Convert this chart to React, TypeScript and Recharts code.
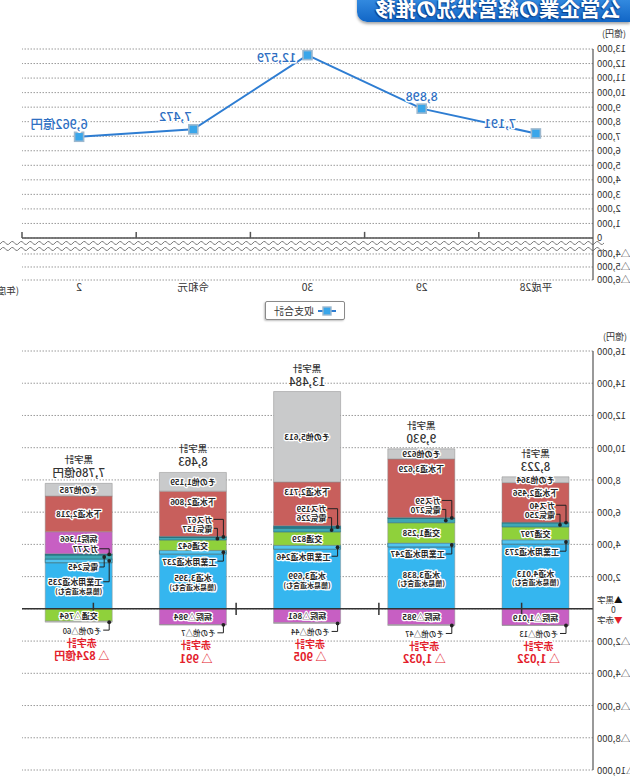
import React from 'react';
import {
  LineChart, Line, XAxis, YAxis, CartesianGrid, ReferenceLine,
  BarChart, Bar, LabelList,
} from 'recharts';

const FONT = '"Noto Sans CJK JP", "Noto Sans", sans-serif';

// ---------- data ----------
const categories = ['平成28', '29', '30', '令和元', '2'];
const balanceTotals = [7191, 8898, 12579, 7472, 6962];

const suidoValues = [4013, 3838, 3699, 3395, 2860];
const kogyoValues = [273, 247, 246, 237, 235];
const kotsuValues = [797, 1258, 829, 642, -764];
const denkiValues = [250, 270, 226, 157, 245];
const gasValues = [40, 59, 159, 67, 77];
const byoinValues = [-1019, -985, -861, -984, 1366];
const gesuidoValues = [2456, 3629, 2713, 2806, 2218];
const sonotaValues = [364, 629, 5613, 1159, 785];
const sonotaNegValues = [-13, -47, -44, -7, -60];
const surplusTotals = [8223, 9930, 13484, 8463, 7786];
const deficitTotals = [1032, 1032, 905, 991, 824];

const topPosTicks = [0, 1000, 2000, 3000, 4000, 5000, 6000, 7000, 8000, 9000, 10000, 11000, 12000, 13000];
const topNegTicks = [-4000, -5000, -6000];
const bottomTicks = [-10000, -8000, -6000, -4000, -2000, 0, 2000, 4000, 6000, 8000, 10000, 12000, 14000, 16000];

// ---------- helpers ----------
const fmt = (n: number) => Math.abs(n).toLocaleString('en-US');

// axis break for the upper chart (0 ... △4,000 skipped)
const BREAK_START = 1100;
const NEG_UNIT = 0.895;
const toDisplay = (v: number) => (v >= 0 ? v : -(BREAK_START + (-v - 4000) * NEG_UNIT));
const topTickDisplay = [...topNegTicks.map(toDisplay), ...topPosTicks];
const topTickLabel = (d: number) => {
  if (d >= 0) return fmt(d);
  const hit = topNegTicks.find((v) => Math.abs(toDisplay(v) - d) < 1);
  return hit !== undefined ? '△' + fmt(hit) : '';
};

const lineData = categories.map((name, i) => ({ idx: i, name, value: balanceTotals[i] }));
const barData = categories.map((name, i) => ({
  name,
  suido: suidoValues[i],
  kogyo: kogyoValues[i],
  kotsu: kotsuValues[i],
  denki: denkiValues[i],
  gas: gasValues[i],
  byoin: byoinValues[i],
  gesuido: gesuidoValues[i],
  sonota: sonotaValues[i],
  sonotaNeg: sonotaNegValues[i],
  surplus: surplusTotals[i],
  deficit: deficitTotals[i],
}));
const boundaries = categories.map((_, i) => i + 0.5);
const lastIdx = categories.length - 1;

const valueLabelOffsets = [[36, -11], [0, -13], [31, 1], [18, -14], [20, -13]];

const HaloText = ({ x, y, size = 8, fill = '#262626', anchor = 'middle', weight = 700, halo = 2.6, children }: any) => (
  <text
    x={x}
    y={y}
    fontSize={size}
    fill={fill}
    textAnchor={anchor}
    dominantBaseline="central"
    fontWeight={weight}
    fontFamily={FONT}
    stroke="#fff"
    strokeWidth={halo}
    strokeLinejoin="round"
    style={{ paintOrder: 'stroke' }}
  >
    {children}
  </text>
);

const Leader = ({ dotX, dotY, toX, toY }: any) => (
  <g>
    <path d={`M${dotX},${dotY}V${toY}H${toX}`} stroke="#222" strokeWidth={1} fill="none" />
    <circle cx={dotX} cy={dotY} r={1.9} fill="#222" />
  </g>
);

const seg = (p: any) => {
  const vb = p.viewBox && typeof p.viewBox.x === 'number' ? p.viewBox : p;
  const x = Number(vb.x);
  const y = Number(vb.y);
  const w = Number(vb.width);
  const h = Number(vb.height);
  return { left: x, cx: x + w / 2, top: Math.min(y, y + h), bottom: Math.max(y, y + h), h: Math.abs(h) };
};

// ---------- label renderers ----------
const suidoLabel = (p: any) => {
  const s = seg(p);
  const cy = (s.top + s.bottom) / 2;
  return (
    <g>
      <HaloText x={s.cx} y={cy - 3.5}>{'水道' + fmt(p.value)}</HaloText>
      <HaloText x={s.cx} y={cy + 5.5} size={7}>(簡易水道含む)</HaloText>
    </g>
  );
};

const kogyoLabel = (p: any) => {
  const s = seg(p);
  const row = barData[p.index];
  const ly = s.bottom + (row.kotsu < 0 ? 19 : 7);
  const mid = (s.top + s.bottom) / 2;
  return (
    <g>
      <Leader dotX={s.left + 3} dotY={mid} toX={s.left + 9} toY={ly} />
      <HaloText x={s.left + 10} y={ly} anchor="start">{'工業用水道' + fmt(p.value)}</HaloText>
    </g>
  );
};

const kotsuLabel = (p: any) => {
  const s = seg(p);
  return <HaloText x={s.cx} y={(s.top + s.bottom) / 2}>{'交通' + (p.value < 0 ? '△' : '') + fmt(p.value)}</HaloText>;
};

const denkiLabel = (p: any) => {
  const row = barData[p.index];
  if (row.kotsu >= 0) return null;
  const s = seg(p);
  const ly = s.bottom + 8;
  return (
    <g>
      <Leader dotX={s.left + 8} dotY={(s.top + s.bottom) / 2} toX={s.left + 13} toY={ly} />
      <HaloText x={s.left + 14} y={ly} anchor="start">{'電気' + fmt(p.value)}</HaloText>
    </g>
  );
};

const byoinLabel = (p: any) => {
  const s = seg(p);
  const row = barData[p.index];
  const v = p.value;
  if (v < 0) return <HaloText x={s.cx} y={(s.top + s.bottom) / 2}>{'病院△' + fmt(v)}</HaloText>;
  const ppu = s.h / v;
  const gasMid = s.bottom + (row.gas * ppu) / 2;
  const gasY = s.bottom - 5;
  return (
    <g>
      <HaloText x={s.cx} y={s.top + 7}>{'病院' + fmt(v)}</HaloText>
      <Leader dotX={s.left + 3} dotY={gasMid} toX={s.left + 13} toY={gasY} />
      <HaloText x={s.left + 14} y={gasY} anchor="start">{'ガス' + fmt(row.gas)}</HaloText>
    </g>
  );
};

const gesuidoLabel = (p: any) => {
  const s = seg(p);
  const row = barData[p.index];
  if (row.byoin > 0) return <HaloText x={s.cx} y={(s.top + s.bottom) / 2}>{'下水道' + fmt(p.value)}</HaloText>;
  const ppu = s.h / p.value;
  const gasMid = s.bottom + (row.gas * ppu) / 2;
  const denkiMid = s.bottom + (row.gas + row.denki / 2) * ppu;
  const gasY = s.bottom - 17;
  const denkiY = s.bottom - 8;
  return (
    <g>
      <HaloText x={s.cx} y={s.top + 10}>{'下水道' + fmt(p.value)}</HaloText>
      <Leader dotX={s.left + 3} dotY={gasMid} toX={s.left + 13} toY={gasY} />
      <Leader dotX={s.left + 9} dotY={denkiMid} toX={s.left + 13} toY={denkiY} />
      <HaloText x={s.left + 14} y={gasY} anchor="start">{'ガス' + fmt(row.gas)}</HaloText>
      <HaloText x={s.left + 14} y={denkiY} anchor="start">{'電気' + fmt(row.denki)}</HaloText>
    </g>
  );
};

const sonotaLabel = (p: any) => {
  const s = seg(p);
  return <HaloText x={s.cx} y={(s.top + s.bottom) / 2}>{'その他' + fmt(p.value)}</HaloText>;
};

const surplusLabel = (p: any) => {
  const s = seg(p);
  return (
    <g>
      <HaloText x={s.cx} y={s.top - 24} size={9.5} fill="#333" weight={500}>黒字計</HaloText>
      <HaloText x={s.cx} y={s.top - 11} size={11.5} fill="#333" weight={500}>
        {fmt(p.value) + (p.index === lastIdx ? '億円' : '')}
      </HaloText>
    </g>
  );
};

const sonotaNegLabel = (p: any) => {
  const s = seg(p);
  const ly = s.bottom + 8;
  return (
    <g>
      <Leader dotX={s.left + 3} dotY={s.bottom} toX={s.left + 9} toY={ly} />
      <HaloText x={s.left + 11} y={ly} anchor="start" size={7.5} weight={500}>{'その他△' + fmt(p.value)}</HaloText>
    </g>
  );
};

const deficitLabel = (p: any) => {
  const s = seg(p);
  return (
    <g>
      <HaloText x={s.cx - 3} y={s.bottom + 20} size={10} fill="#E3202B" weight={700}>赤字計</HaloText>
      <HaloText x={s.cx - 3} y={s.bottom + 33} size={11} fill="#E3202B" weight={700}>
        {'△ ' + fmt(p.value) + (p.index === lastIdx ? '億円' : '')}
      </HaloText>
    </g>
  );
};

// ---------- shapes ----------
const SquareDot = (p: any) => {
  if (p.cx == null || p.cy == null) return null;
  return <rect key={'d' + p.index} x={p.cx - 4.5} y={p.cy - 4.5} width={9} height={9} fill="#39A6EA" stroke="#9CB8CF" strokeWidth={1.6} />;
};

const ValueLabel = (p: any) => {
  const [dx, dy] = valueLabelOffsets[p.index] || [0, -12];
  return (
    <HaloText x={Number(p.x) + dx} y={Number(p.y) + dy} size={12.5} fill="#2F6FC2" weight={500} halo={3}>
      {fmt(p.value) + (p.index === lastIdx ? '億円' : '')}
    </HaloText>
  );
};

const BreakShape = (p: any) => {
  const y = Number(p.y1);
  const x0 = 26;
  const x1 = 634;
  const wave = (off: number) => {
    let d = '';
    for (let x = x0; x <= x1; x += 1.5) {
      const yy = y + off + 1.6 * Math.sin(((x - x0) / 9) * 2 * Math.PI);
      d += (d ? 'L' : 'M') + x.toFixed(1) + ',' + yy.toFixed(2);
    }
    return d;
  };
  return (
    <g>
      <rect x={x0} y={y - 4} width={x1 - x0} height={8} fill="#fff" />
      <path d={wave(-3)} stroke="#7a7a7a" strokeWidth={1} fill="none" />
      <path d={wave(3)} stroke="#7a7a7a" strokeWidth={1} fill="none" />
    </g>
  );
};

const BottomTick = (p: any) => {
  const v = p.payload.value;
  const x = Number(p.x);
  const y = Number(p.y);
  if (v === 0) {
    return (
      <g fontFamily={FONT} fontSize={8.5} fill="#333">
        <text x={x} y={y - 10} textAnchor="end" dominantBaseline="central">
          <tspan fill="#111">▲</tspan>黒字
        </text>
        <text x={x - 14} y={y} textAnchor="end" dominantBaseline="central">0</text>
        <text x={x} y={y + 10} textAnchor="end" dominantBaseline="central">
          <tspan fill="#E3202B">▼</tspan>赤字
        </text>
      </g>
    );
  }
  return (
    <text x={x} y={y} textAnchor="end" dominantBaseline="central" fontSize={9.5} fill="#333" fontFamily={FONT}>
      {(v < 0 ? '△' : '') + fmt(v)}
    </text>
  );
};

const barStroke = '#8f8f8f';

export default function App() {
  return (
    <div
      style={{
        position: 'absolute', left: 0, top: 0, width: 630, height: 778, overflow: 'hidden',
        background: '#fff', transform: 'scaleX(-1)', fontFamily: FONT,
      }}
    >
      {/* title banner */}
      <div
        style={{
          position: 'absolute', left: 0, top: -6, width: 273, height: 28,
          background: 'linear-gradient(#3b93e6, #1166c6)', borderBottomRightRadius: 10,
          boxShadow: '0 2px 3px rgba(0,0,0,0.35)', color: '#fff', fontWeight: 700, fontSize: 20.5,
          lineHeight: '28px', paddingLeft: 9, boxSizing: 'border-box', whiteSpace: 'nowrap',
          textShadow: '0 0 2px #0b3f8a, 1px 1px 1px #0b3f8a',
        }}
      >
        公営企業の経営状況の推移
      </div>

      {/* upper chart */}
      <div style={{ position: 'absolute', left: 0, top: 0 }}>
        <LineChart width={630} height={305} data={lineData} margin={{ top: 49, right: 22, left: 0, bottom: 5 }}>
          <CartesianGrid vertical={false} stroke="#9a9a9a" strokeDasharray="1.5 1.5" />
          <XAxis
            dataKey="idx" type="number" domain={[-0.5, 4.5]} ticks={[0, 1, 2, 3, 4]}
            tickFormatter={(v: number) => categories[Math.round(v)] ?? ''}
            axisLine={false} tickLine={false} tickSize={2} tickMargin={2} height={20} interval={0}
            tick={{ fontSize: 10.5, fill: '#333', fontFamily: FONT }}
          />
          <YAxis
            type="number" domain={[toDisplay(-6000), 13000]} ticks={topTickDisplay} interval={0}
            tickFormatter={topTickLabel} width={37} tickLine={false} tickSize={3} tickMargin={1}
            axisLine={{ stroke: '#555', strokeWidth: 1.2 }}
            tick={{ fontSize: 9.5, fill: '#333', fontFamily: FONT }}
          />
          <ReferenceLine y={0} stroke="#555" strokeWidth={1.5} />
          {boundaries.map((b) => (
            <ReferenceLine key={'tb' + b} segment={[{ x: b, y: 0 }, { x: b, y: 420 }]} stroke="#555" strokeWidth={1.5} />
          ))}
          <ReferenceLine y={toDisplay(-4000) / 2} shape={BreakShape} />
          <Line
            dataKey="value" stroke="#2E7DD2" strokeWidth={2} dot={SquareDot} activeDot={false}
            label={ValueLabel} isAnimationActive={false}
          />
        </LineChart>
      </div>
      <div style={{ position: 'absolute', left: 4, top: 27, fontSize: 9, color: '#333' }}>(億円)</div>
      <div style={{ position: 'absolute', left: 611, top: 283, fontSize: 9.5, color: '#333', whiteSpace: 'nowrap' }}>(年度)</div>

      {/* legend */}
      <div
        style={{
          position: 'absolute', left: 285, top: 301, width: 80, height: 19, boxSizing: 'border-box',
          border: '1px solid #8a8a8a', borderRadius: 2, boxShadow: '1px 1px 2px rgba(0,0,0,0.25)',
          display: 'flex', alignItems: 'center', justifyContent: 'center', gap: 4, fontSize: 10, color: '#333', background: '#fff',
        }}
      >
        <svg width={18} height={10}>
          <line x1={0} y1={5} x2={18} y2={5} stroke="#2E7DD2" strokeWidth={2} />
          <rect x={5} y={1} width={8} height={8} fill="#39A6EA" stroke="#9CB8CF" strokeWidth={1.4} />
        </svg>
        <span>収支合計</span>
      </div>

      {/* lower chart */}
      <div style={{ position: 'absolute', left: 0, top: 320 }}>
        <BarChart
          width={630} height={458} data={barData} stackOffset="sign" barSize={67}
          margin={{ top: 31, right: 22, left: 0, bottom: 8 }}
        >
          <CartesianGrid vertical={false} stroke="#9a9a9a" strokeDasharray="1.5 1.5" />
          <XAxis dataKey="name" hide />
          <XAxis xAxisId="num" type="number" domain={[-0.5, 4.5]} hide />
          <YAxis
            type="number" domain={[-10000, 16000]} ticks={bottomTicks} interval={0} width={37}
            tickLine={false} tickSize={3} tickMargin={1} axisLine={{ stroke: '#555', strokeWidth: 1.2 }}
            tick={BottomTick}
          />
          <Bar dataKey="suido" stackId="s" fill="#35B6EF" stroke={barStroke} strokeWidth={0.5} isAnimationActive={false}>
            <LabelList dataKey="suido" content={suidoLabel} />
          </Bar>
          <Bar dataKey="kogyo" stackId="s" fill="#52C3F0" stroke="#2f6f7f" strokeWidth={0.8} isAnimationActive={false}>
            <LabelList dataKey="kogyo" content={kogyoLabel} />
          </Bar>
          <Bar dataKey="kotsu" stackId="s" fill="#8FD13B" stroke={barStroke} strokeWidth={0.5} isAnimationActive={false}>
            <LabelList dataKey="kotsu" content={kotsuLabel} />
          </Bar>
          <Bar dataKey="denki" stackId="s" fill="#3FA7B5" stroke="#2a6f78" strokeWidth={0.6} isAnimationActive={false}>
            <LabelList dataKey="denki" content={denkiLabel} />
          </Bar>
          <Bar dataKey="gas" stackId="s" fill="#267E90" stroke="#1f5f6a" strokeWidth={0.6} isAnimationActive={false} />
          <Bar dataKey="byoin" stackId="s" fill="#C75FC3" stroke={barStroke} strokeWidth={0.5} isAnimationActive={false}>
            <LabelList dataKey="byoin" content={byoinLabel} />
          </Bar>
          <Bar dataKey="gesuido" stackId="s" fill="#C85F5C" stroke={barStroke} strokeWidth={0.5} isAnimationActive={false}>
            <LabelList dataKey="gesuido" content={gesuidoLabel} />
          </Bar>
          <Bar dataKey="sonota" stackId="s" fill="#C9CACB" stroke={barStroke} strokeWidth={0.5} isAnimationActive={false}>
            <LabelList dataKey="sonota" content={sonotaLabel} />
            <LabelList dataKey="surplus" content={surplusLabel} />
          </Bar>
          <Bar dataKey="sonotaNeg" stackId="s" fill="#C9CACB" stroke={barStroke} strokeWidth={0.5} isAnimationActive={false}>
            <LabelList dataKey="sonotaNeg" content={sonotaNegLabel} />
            <LabelList dataKey="deficit" content={deficitLabel} />
          </Bar>
          <ReferenceLine y={0} stroke="#333" strokeWidth={1.5} />
          {boundaries.map((b) => (
            <ReferenceLine
              key={'bb' + b} xAxisId="num" segment={[{ x: b, y: -380 }, { x: b, y: 380 }]}
              stroke="#333" strokeWidth={1.5}
            />
          ))}
        </BarChart>
      </div>
      <div style={{ position: 'absolute', left: 3, top: 330, fontSize: 9, color: '#333' }}>(億円)</div>
    </div>
  );
}
